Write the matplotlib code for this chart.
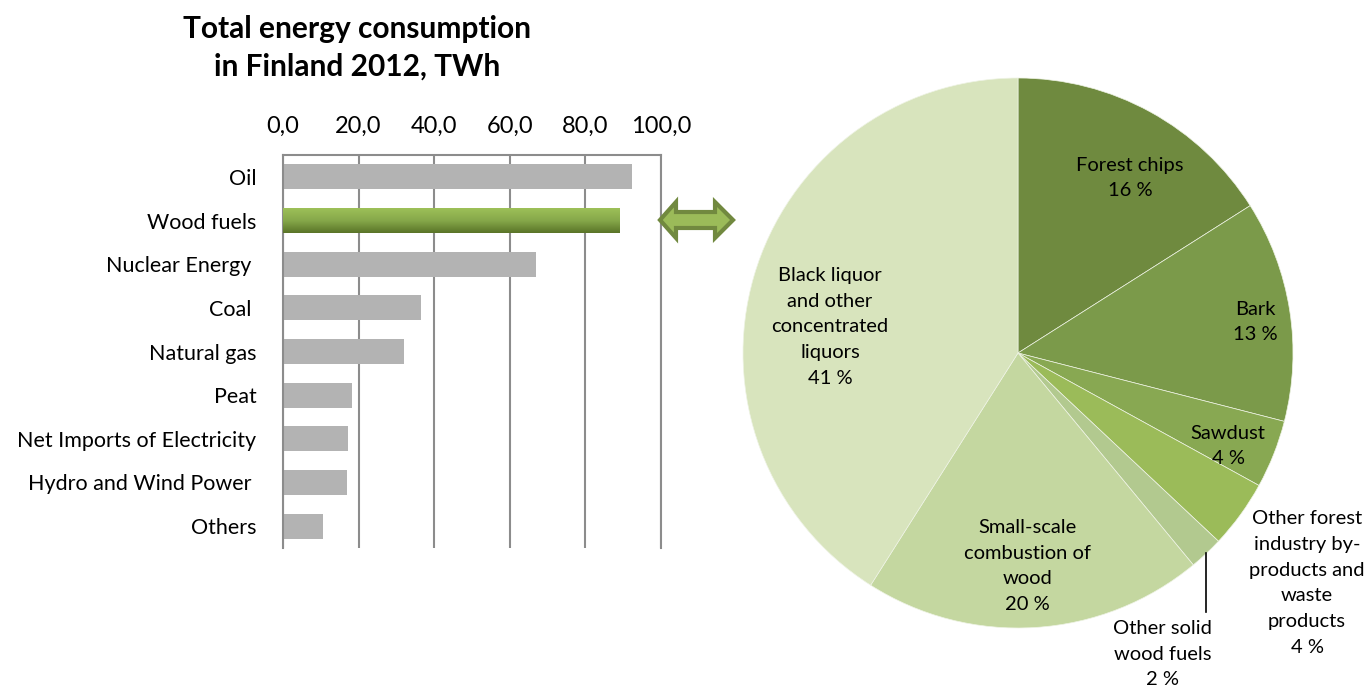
import numpy as np
import matplotlib.pyplot as plt
from matplotlib.colors import LinearSegmentedColormap
from matplotlib.patches import Polygon

plt.rcParams['font.family'] = ['Lato', 'DejaVu Sans']

# total energy consumption by source, TWh
sources = ['Oil', 'Wood fuels', 'Nuclear Energy ', 'Coal ', 'Natural gas', 'Peat',
           'Net Imports of Electricity', 'Hydro and Wind Power ', 'Others']
twh = [92.2, 88.9, 66.9, 36.5, 32.1, 18.2, 17.3, 16.9, 10.5]
xticks = [0, 20, 40, 60, 80, 100]

# wood fuels split, %
wood_parts = ['Forest chips', 'Bark', 'Sawdust',
              'Other forest\nindustry by-\nproducts and\nwaste\nproducts',
              'Other solid\nwood fuels',
              'Small-scale\ncombustion of\nwood',
              'Black liquor\nand other\nconcentrated\nliquors']
wood_share = [16, 13, 4, 4, 2, 20, 41]

pie_colors = ['#6f8a3f', '#7b9a4a', '#88a852', '#9bbb59', '#b2c98f', '#c4d7a0', '#d8e4bd']
label_xy = [(0.407, 0.636), (0.862, 0.113), (0.764, -0.338), (1.051, -0.836),
            (0.527, -1.095), (0.033, -0.775), (-0.684, 0.095)]

W, H = 1365, 686
fig = plt.figure(figsize=(W / 100, H / 100), dpi=100)

# --- bar chart ---
ax = fig.add_axes([283 / W, 1 - 548 / H, 378 / W, 393 / H])
y = np.arange(len(sources))
bars = ax.barh(y, twh, height=0.57, color='#b3b3b3', zorder=2)

# gradient fill for the wood fuels bar
b = bars[1]
b.set_visible(False)
grad = np.linspace(0, 1, 100).reshape(-1, 1)
cmap = LinearSegmentedColormap.from_list('wood', ['#9dc058', '#86a84a', '#5a7428'])
ax.imshow(grad, cmap=cmap, aspect='auto', zorder=3,
          extent=(b.get_x(), b.get_x() + b.get_width(),
                  b.get_y() + b.get_height(), b.get_y()))

ax.set_xlim(0, 100)
ax.set_ylim(len(sources) - 0.5, -0.5)
ax.xaxis.tick_top()
ax.set_xticks(xticks)
ax.set_xticklabels([f'{v:.1f}'.replace('.', ',') for v in xticks], fontsize=17)
ax.tick_params(axis='x', length=0, pad=13)
ax.set_yticks(y)
ax.set_yticklabels(sources, fontsize=15.5)
ax.tick_params(axis='y', length=0, pad=19)
ax.grid(axis='x', color='#8c8c8c', lw=1.5, zorder=1)
ax.set_axisbelow(True)
for side in ['top', 'left', 'right']:
    ax.spines[side].set_color('#8c8c8c')
    ax.spines[side].set_linewidth(1.5)
ax.spines['bottom'].set_visible(False)

fig.text(357 / W, 1 - 48 / H, 'Total energy consumption\nin Finland 2012, TWh',
         ha='center', va='center', fontsize=21.5, fontweight='bold', linespacing=1.4)

# --- double arrow between the charts ---
pts = [(660, 220), (676, 202), (676, 212), (715, 212), (715, 202), (733, 220),
       (715, 238), (715, 228), (676, 228), (676, 238)]
fig.patches.append(Polygon([(px / W, 1 - py / H) for px, py in pts], closed=True,
                           transform=fig.transFigure, fc='#9bbb59', ec='#71893f',
                           lw=3, joinstyle='miter'))

# --- pie chart ---
axp = fig.add_axes([(1018 - 275) / W, 1 - (353 + 275) / H, 550 / W, 550 / H])
wedges, _ = axp.pie(wood_share, colors=pie_colors, startangle=90, counterclock=False,
                    radius=1, wedgeprops=dict(edgecolor='#eef3e4', linewidth=0.5))
axp.set_xlim(-1, 1)
axp.set_ylim(-1, 1)

for name, share, (lx, ly) in zip(wood_parts, wood_share, label_xy):
    axp.text(lx, ly, f'{name}\n{share} %', ha='center', va='center',
             fontsize=14.5, linespacing=1.62)

# leader line for the small slice
w = wedges[4]
th = np.deg2rad((w.theta1 + w.theta2) / 2)
axp.plot([np.cos(th), np.cos(th)], [np.sin(th), -0.94], color='black', lw=1.2,
         clip_on=False)

fig.savefig('out.png', dpi=100)
